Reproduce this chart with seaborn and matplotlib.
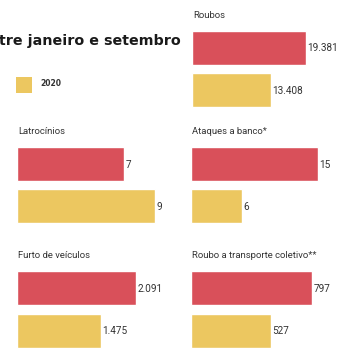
import matplotlib
matplotlib.use('Agg')
import matplotlib.pyplot as plt
import matplotlib.patches as mpatches
import seaborn as sns
import pandas as pd

## ============================== ##

years = ['2019', '2020']
categories = ['Roubos', 'Latrocínios', 'Ataques a banco*', 'Furto de veículos',
	'Roubo a transporte coletivo**']
values_2019 = [19381, 7, 15, 2091, 797]
values_2020 = [13408, 9, 6, 1475, 527]

title_text = 'tre janeiro e setembro'
legend_year = '2020'

RED = '#d9505a'
YELLOW = '#ecc760'
TXT = '#333333'

## ============================== ##

W, H = 356, 364

sns.set_theme(style='white')
plt.rcParams['font.family'] = ['Roboto', 'DejaVu Sans']

fig = plt.figure(figsize=(W / 100., H / 100.), dpi=100)
fig.patch.set_facecolor('white')

# panel layout in pixels: left edge, centre of first bar, title y, axis max
layout = [
	(192, 47.5, 16, 25500.),
	(17, 164, 131, 9.78),
	(191, 164, 131, 17.7),
	(17, 288, 255, 2636.),
	(191, 288, 255, 988.),
]
PANEL_W = 150.
STEP = 42.5
BAR_H = 34.

def fmt(v):
	return '{0:,}'.format(v).replace(',', '.')

for k, cat in enumerate(categories):
	x0, c0, ty, xmax = layout[k]
	top = c0 - STEP / 2.
	bottom = c0 + STEP * 1.5
	ax = fig.add_axes([x0 / W, 1. - bottom / H, PANEL_W / W, (bottom - top) / H])
	df = pd.DataFrame({'year': years, 'value': [values_2019[k], values_2020[k]]})
	sns.barplot(data=df, x='value', y='year', hue='year', palette=[RED, YELLOW],
			orient='h', width=BAR_H / STEP, legend=False, ax=ax, saturation=1.)
	ax.set_xlim(0, xmax)
	ax.set_ylim(1.5, -0.5)
	ax.axis('off')
	for i, v in enumerate(df['value']):
		ax.annotate(fmt(v), xy=(v, i), xytext=(1., -0.5), textcoords='offset points',
				ha='left', va='center', fontsize=7.2, color=TXT)
	fig.text((x0 + 1) / W, 1. - ty / H, cat, ha='left', va='center',
			fontsize=6.8, color=TXT)

fig.text(181 / W, 1. - 41 / H, title_text, ha='right', va='center',
		fontsize=10.3, fontweight='bold', color='#1a1a1a', family='DejaVu Sans')

fig.add_artist(mpatches.Rectangle((16 / W, 1. - 93 / H), 16 / W, 16 / H,
		transform=fig.transFigure, color=YELLOW, lw=0))
fig.text(40 / W, 1. - 84 / H, legend_year, ha='left', va='center',
		fontsize=5.5, fontweight='bold', color=TXT, family='DejaVu Sans')

fig.savefig('out.png', dpi=100, facecolor='white')
